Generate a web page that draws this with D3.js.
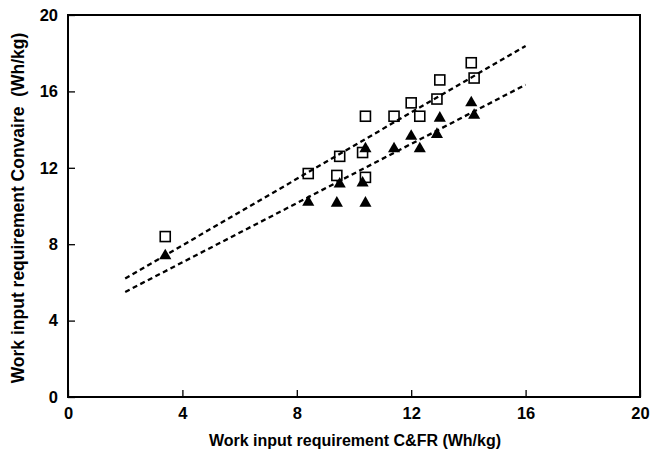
<!DOCTYPE html>
<html><head><meta charset="utf-8">
<script src="https://cdn.jsdelivr.net/npm/d3@7"></script>
<style>body{margin:0;background:#fff}svg{display:block}</style>
</head><body>
<script>
const xValues = [3.4, 8.4, 9.4, 9.5, 10.3, 10.4, 10.4, 11.4, 12.0, 12.3, 12.9, 13.0, 14.1, 14.2];
const squareValues = [8.4, 11.7, 11.6, 12.6, 12.8, 14.7, 11.5, 14.7, 15.4, 14.7, 15.6, 16.6, 17.5, 16.7];
const triangleValues = [7.4, 10.2, 10.15, 11.15, 11.2, 13.0, 10.15, 13.0, 13.65, 13.0, 13.75, 14.6, 15.4, 14.75];
const fitX = [2, 16];
const upperFit = [6.2, 18.38];
const lowerFit = [5.5, 16.35];
const xTicks = [0, 4, 8, 12, 16, 20];
const yTicks = [0, 4, 8, 12, 16, 20];
const xTitle = "Work input requirement C&FR (Wh/kg)";
const yTitle = "Work input requirement Convaire  (Wh/kg)";

const W = 652, H = 456;
const m = {left: 68, right: 12, top: 15, bottom: 59};
const svg = d3.select("body").append("svg").attr("width", W).attr("height", H);
const x = d3.scaleLinear().domain([0, 20]).range([m.left, W - m.right]);
const y = d3.scaleLinear().domain([0, 20]).range([H - m.bottom, m.top]);
const font = "'Liberation Sans', Arial, sans-serif";

// frame
svg.append("rect").attr("x", x(0)).attr("y", y(20))
  .attr("width", x(20) - x(0)).attr("height", y(0) - y(20))
  .attr("fill", "none").attr("stroke", "#000").attr("stroke-width", 2);

const xAxis = svg.append("g").attr("transform", `translate(0,${y(0)})`)
  .call(d3.axisBottom(x).tickValues(xTicks).tickSize(-7).tickPadding(12).tickFormat(d3.format("d")));
const yAxis = svg.append("g").attr("transform", `translate(${x(0)},0)`)
  .call(d3.axisLeft(y).tickValues(yTicks).tickSize(-7).tickPadding(10).tickFormat(d3.format("d")));
[xAxis, yAxis].forEach(a => {
  a.select(".domain").remove();
  a.selectAll("line").attr("stroke", "#000").attr("stroke-width", 1.3);
  a.selectAll("text").attr("font-family", font).attr("font-size", 16.5).attr("font-weight", "bold").attr("fill", "#000");
});
xAxis.selectAll("text").attr("dy", "0.6em");

// fit lines
const line = d3.line().x(d => x(d[0])).y(d => y(d[1]));
[upperFit, lowerFit].forEach(f => {
  svg.append("path").datum(fitX.map((v, i) => [v, f[i]]))
    .attr("d", line).attr("fill", "none").attr("stroke", "#000")
    .attr("stroke-width", 2.3).attr("stroke-dasharray", "5,3.5");
});

// squares
svg.selectAll(".sq").data(xValues.map((v, i) => [v, squareValues[i]])).enter()
  .append("rect").attr("x", d => x(d[0]) - 5).attr("y", d => y(d[1]) - 5)
  .attr("width", 10).attr("height", 10)
  .attr("fill", "none").attr("stroke", "#000").attr("stroke-width", 1.6);

// triangles
const tri = d3.symbol().type(d3.symbolTriangle).size(64);
svg.selectAll(".tri").data(xValues.map((v, i) => [v, triangleValues[i]])).enter()
  .append("path").attr("d", tri)
  .attr("transform", d => `translate(${x(d[0])},${y(d[1])})`)
  .attr("fill", "#000");

// titles
svg.append("text").attr("x", (x(0) + x(20)) / 2 + 1).attr("y", 446)
  .attr("text-anchor", "middle").attr("font-family", font).attr("font-size", 16)
  .attr("font-weight", "bold").text(xTitle);
svg.append("text").attr("transform", `translate(24,208) rotate(-90)`)
  .attr("text-anchor", "middle").attr("font-family", font).attr("font-size", 17.5)
  .attr("font-weight", "bold").attr("xml:space", "preserve").style("white-space", "pre").text(yTitle);
</script>
</body></html>
